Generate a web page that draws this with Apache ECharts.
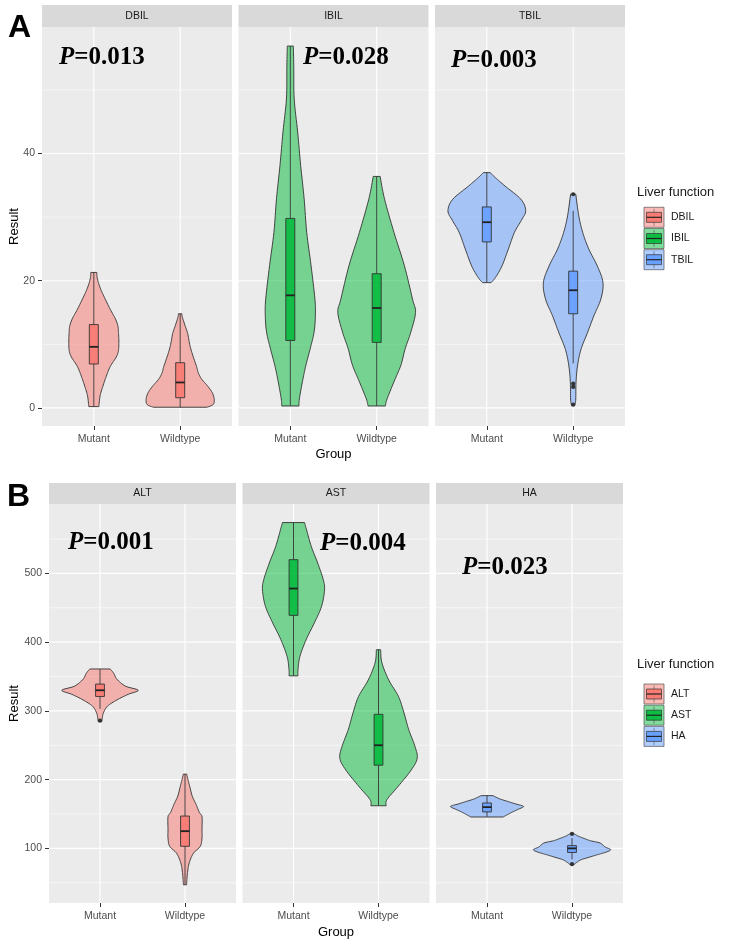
<!DOCTYPE html>
<html><head><meta charset="utf-8">
<script src="https://cdn.jsdelivr.net/npm/echarts@6/dist/echarts.min.js"></script>
<style>html,body{margin:0;padding:0;background:#fff}#c{width:735px;height:949px}</style>
</head><body><div id="c"></div><script>
// ---------- data ----------
const groups = ['Mutant', 'Wildtype'];
const facetsA = ['DBIL', 'IBIL', 'TBIL'];
const facetsB = ['ALT', 'AST', 'HA'];
const pValues = ['0.013', '0.028', '0.003', '0.001', '0.004', '0.023'];
const yTicksA = [0, 20, 40];
const yMinorA = [10, 30, 50];
const yTicksB = [100, 200, 300, 400, 500];
const yMinorB = [50, 150, 250, 350, 450, 550];

// violin density profiles: [value, half-width]
const violinDBILMutant = [[0.2,0.058],[1.9,0.073],[3.4,0.105],[5,0.145],[6.5,0.19],[8,0.26],[9,0.285],[10.5,0.29],[12,0.285],[12.8,0.28],[14,0.25],[15.5,0.19],[17.6,0.115],[19,0.07],[20.4,0.04],[21.3,0.035]];
const violinDBILWildtype = [[0.1,0.31],[0.5,0.38],[1.25,0.395],[2.3,0.375],[3.4,0.32],[4.5,0.25],[5.5,0.21],[6.5,0.19],[8.5,0.14],[10,0.11],[11.7,0.087],[13,0.055],[14.3,0.025],[14.8,0.02]];
const violinIBILMutant = [[0.3,0.1],[1.4,0.105],[4.1,0.14],[6.7,0.18],[9.3,0.23],[11.9,0.275],[14.5,0.29],[17.1,0.285],[22.4,0.24],[27.6,0.19],[32.9,0.16],[38.1,0.12],[43.4,0.085],[48.6,0.045],[53.8,0.04],[56.9,0.035]];
const violinIBILWildtype = [[0.3,0.1],[1.4,0.12],[4.1,0.2],[6.7,0.28],[9.3,0.33],[11.9,0.395],[15,0.45],[17.1,0.415],[22.4,0.32],[27.6,0.2],[32.9,0.09],[36.4,0.04]];
const violinTBILMutant = [[19.7,0.05],[20.5,0.1],[22.3,0.175],[25,0.25],[27.6,0.32],[29.5,0.4],[31,0.45],[32.8,0.395],[34.9,0.21],[36.2,0.1],[37,0.04]];
const violinTBILWildtype = [[0.4,0.02],[1.4,0.03],[4,0.033],[6.6,0.05],[9.2,0.09],[11.8,0.165],[14.5,0.24],[17.1,0.32],[19.7,0.345],[22.3,0.28],[25,0.18],[27.6,0.11],[30.2,0.065],[33.6,0.03]];
const violinALTMutant = [[284,0.02],[288,0.025],[297,0.04],[307,0.09],[316,0.2],[324,0.33],[330,0.45],[336,0.3],[346,0.2],[355,0.16],[361,0.12]];
const violinALTWildtype = [[47,0.02],[50,0.02],[65,0.03],[79,0.05],[93,0.1],[103,0.18],[115,0.2],[127,0.2],[146,0.2],[152,0.17],[164,0.13],[176,0.085],[188,0.06],[200,0.035],[208,0.02]];
const violinASTMutant = [[351,0.053],[360,0.053],[379,0.075],[404,0.15],[428,0.245],[452,0.33],[476,0.365],[491,0.35],[515,0.285],[539,0.21],[565,0.15],[574,0.13]];
const violinASTWildtype = [[162,0.09],[171,0.1],[190,0.23],[214,0.385],[231,0.455],[248,0.43],[273,0.355],[297,0.3],[321,0.235],[345,0.12],[370,0.04],[389,0.025]];
const violinHAMutant = [[145.6,0.19],[149,0.24],[153,0.3],[157,0.37],[161,0.43],[164.5,0.34],[168,0.25],[172,0.15],[176.7,0.07]];
const violinHAWildtype = [[77,0.03],[80,0.06],[83.6,0.11],[87,0.2],[90.8,0.3],[94,0.39],[98,0.455],[102,0.39],[107.8,0.33],[111,0.22],[115,0.13],[118,0.07],[121,0.03]];

// box stats: [lower whisker, Q1, median, Q3, upper whisker]
const boxDBIL = [[0.2, 6.9, 9.6, 13.1, 21.3], [0.1, 1.6, 4.0, 7.1, 14.8]];
const boxIBIL = [[0.3, 10.6, 17.7, 29.8, 56.9], [0.3, 10.3, 15.7, 21.1, 36.4]];
const boxTBIL = [[19.7, 26.1, 29.2, 31.6, 37.0], [7.0, 14.8, 18.5, 21.5, 31.0]];
const boxALT = [[303, 321, 330, 339, 361], [47, 103, 125, 147, 208]];
const boxAST = [[351, 439, 478, 520, 574], [162, 221, 250, 295, 389]];
const boxHA = [[146, 153, 160, 166, 177], [84, 94, 100, 104, 115]];
// outliers
const outDBIL = [[], []];
const outIBIL = [[], []];
const outTBIL = [[], [33.6, 3.8, 3.3, 0.5]];
const outALT = [[286], []];
const outAST = [[], []];
const outHA = [[], [121, 77]];

// ---------- assembly ----------
const facetColors = ['#F8766D', '#00BA38', '#619CFF'];
const violins = {DBIL:[violinDBILMutant, violinDBILWildtype], IBIL:[violinIBILMutant, violinIBILWildtype], TBIL:[violinTBILMutant, violinTBILWildtype],
  ALT:[violinALTMutant, violinALTWildtype], AST:[violinASTMutant, violinASTWildtype], HA:[violinHAMutant, violinHAWildtype]};
const boxes = {DBIL:boxDBIL, IBIL:boxIBIL, TBIL:boxTBIL, ALT:boxALT, AST:boxAST, HA:boxHA};
const outliers = {DBIL:outDBIL, IBIL:outIBIL, TBIL:outTBIL, ALT:outALT, AST:outAST, HA:outHA};

const SANS = 'Liberation Sans, Arial, sans-serif';
const SERIF = 'Liberation Serif, Times New Roman, serif';

const rows = [
  {facets: facetsA, top: 27, height: 399, lefts: [42, 238.5, 435], width: 190, ymin: -2.85, ymax: 59.9, ticks: yTicksA, minor: yMinorA,
   stripTop: 5, pPos: [[59, 58], [303, 58], [451, 61]], letter: 'A', letterY: 28, legY: 192, keyY: 207.3},
  {facets: facetsB, top: 504, height: 399, lefts: [49, 242.5, 436], width: 187, ymin: 20.5, ymax: 601, ticks: yTicksB, minor: yMinorB,
   stripTop: 483, pPos: [[68, 543], [320, 544], [462, 568]], letter: 'B', letterY: 497.5, legY: 664, keyY: 684}
];

function rgba(hex, a) {
  const n = parseInt(hex.slice(1), 16);
  return 'rgba(' + ((n >> 16) & 255) + ',' + ((n >> 8) & 255) + ',' + (n & 255) + ',' + a + ')';
}

// Catmull-Rom sampling of a profile outline (render-time smoothing only)
function sampleProfile(prof) {
  const out = [];
  const n = prof.length;
  for (let i = 0; i < n - 1; i++) {
    const p0 = prof[Math.max(0, i - 1)], p1 = prof[i], p2 = prof[i + 1], p3 = prof[Math.min(n - 1, i + 2)];
    const steps = 8;
    for (let s = 0; s < steps; s++) {
      const t = s / steps, t2 = t * t, t3 = t2 * t;
      const f = (a, b, c, d) => 0.5 * ((2 * b) + (-a + c) * t + (2 * a - 5 * b + 4 * c - d) * t2 + (-a + 3 * b - 3 * c + d) * t3);
      const v = f(p0[0], p1[0], p2[0], p3[0]);
      let w = f(p0[1], p1[1], p2[1], p3[1]);
      const lo = Math.min(p1[1], p2[1]) * 0.6;
      if (w < lo) w = lo;
      out.push([v, w]);
    }
  }
  out.push(prof[n - 1]);
  return out;
}

const grids = [], xAxes = [], yAxes = [], series = [], graphics = [];
const BW = 0.052;

rows.forEach((row, ri) => {
  row.facets.forEach((facet, ci) => {
    const gi = grids.length;
    const color = facetColors[ci];
    grids.push({left: row.lefts[ci], top: row.top, width: row.width, height: row.height,
      show: true, backgroundColor: '#EBEBEB', borderWidth: 0, containLabel: false});
    xAxes.push({type: 'value', gridIndex: gi, min: 0.4, max: 2.6, position: 'bottom',
      axisLine: {show: false, onZero: false}, splitLine: {show: false}, axisPointer: {show: false},
      axisTick: {show: true, length: 4, customValues: [1, 2], lineStyle: {color: '#333', width: 1}},
      axisLabel: {show: true, customValues: [1, 2], margin: 8, color: '#4D4D4D', fontSize: 10.5, fontFamily: SANS,
        formatter: v => groups[Math.round(v) - 1] || ''}});
    yAxes.push({type: 'value', gridIndex: gi, min: row.ymin, max: row.ymax, position: 'left',
      axisLine: {show: false, onZero: false}, splitLine: {show: false}, axisPointer: {show: false},
      axisTick: {show: ci === 0, length: 4, customValues: row.ticks, lineStyle: {color: '#333', width: 1}},
      axisLabel: {show: ci === 0, customValues: row.ticks, margin: 7, color: '#4D4D4D', fontSize: 10.5, fontFamily: SANS}});
    // grid lines: [x, y, kind]  kind 0 major horizontal, 1 minor horizontal, 2 vertical
    const gl = [];
    row.ticks.forEach(v => gl.push([1, v, 0]));
    row.minor.forEach(v => gl.push([1, v, 1]));
    [1, 2].forEach(v => gl.push([v, row.ticks[1], 2]));
    series.push({type: 'custom', xAxisIndex: gi, yAxisIndex: gi, z: 1, silent: true, animation: false, clip: true,
      data: gl,
      renderItem: (params, api) => {
        const cs = params.coordSys;
        const kind = api.value(2);
        const p = api.coord([api.value(0), api.value(1)]);
        if (kind === 2) {
          return {type: 'line', shape: {x1: p[0], y1: cs.y, x2: p[0], y2: cs.y + cs.height}, style: {stroke: '#FFFFFF', lineWidth: 1.1}};
        }
        return {type: 'line', shape: {x1: cs.x, y1: p[1], x2: cs.x + cs.width, y2: p[1]},
          style: {stroke: '#FFFFFF', lineWidth: kind === 0 ? 1.1 : 0.55}};
      }});
    // violins + boxes
    series.push({type: 'custom', name: facet, xAxisIndex: gi, yAxisIndex: gi, z: 3, animation: false, clip: true,
      data: [[1, boxes[facet][0][2]], [2, boxes[facet][1][2]]],
      renderItem: (params, api) => {
        const k = params.dataIndex;
        const prof = sampleProfile(violins[facet][k]);
        const b = boxes[facet][k];
        const xc = api.value(0);
        const leftPts = prof.map(p => api.coord([xc - p[1], p[0]]));
        const rightPts = prof.slice().reverse().map(p => api.coord([xc + p[1], p[0]]));
        const ch = [];
        ch.push({type: 'polygon', shape: {points: leftPts.concat(rightPts)},
          style: {fill: rgba(color, 0.5), stroke: '#333333', lineWidth: 0.9, lineJoin: 'round'}});
        const lo = api.coord([xc, b[0]]), q1 = api.coord([xc, b[1]]), q3 = api.coord([xc, b[3]]), hi = api.coord([xc, b[4]]);
        ch.push({type: 'line', shape: {x1: lo[0], y1: lo[1], x2: q1[0], y2: q1[1]}, style: {stroke: '#333333', lineWidth: 0.9}});
        ch.push({type: 'line', shape: {x1: q3[0], y1: q3[1], x2: hi[0], y2: hi[1]}, style: {stroke: '#333333', lineWidth: 0.9}});
        const a = api.coord([xc - BW, b[3]]), c = api.coord([xc + BW, b[1]]);
        ch.push({type: 'rect', shape: {x: a[0], y: a[1], width: c[0] - a[0], height: c[1] - a[1]},
          style: {fill: rgba(color, 0.85), stroke: '#333333', lineWidth: 0.9}});
        const m1 = api.coord([xc - BW, b[2]]), m2 = api.coord([xc + BW, b[2]]);
        ch.push({type: 'line', shape: {x1: m1[0], y1: m1[1], x2: m2[0], y2: m2[1]}, style: {stroke: '#222222', lineWidth: 1.8}});
        outliers[facet][k].forEach(v => {
          const p = api.coord([xc, v]);
          ch.push({type: 'circle', shape: {cx: p[0], cy: p[1], r: 2.1}, style: {fill: '#333333'}});
        });
        return {type: 'group', children: ch};
      }});
    // strip
    graphics.push({type: 'rect', shape: {x: row.lefts[ci], y: row.stripTop, width: row.width, height: row.top - row.stripTop},
      style: {fill: '#D9D9D9'}, silent: true});
    graphics.push({type: 'text', x: row.lefts[ci] + row.width / 2, y: (row.stripTop + row.top) / 2,
      style: {text: facet, fill: '#1A1A1A', font: '10.5px ' + SANS, align: 'center', verticalAlign: 'middle'}, silent: true});
    // p value
    const pp = row.pPos[ci];
    graphics.push({type: 'text', x: pp[0], y: pp[1], z: 10,
      style: {text: '{i|P}{n|=' + pValues[ri * 3 + ci] + '}', align: 'left', verticalAlign: 'middle',
        rich: {i: {fontFamily: SERIF, fontSize: 25, fontWeight: 'bold', fontStyle: 'italic', fill: '#000'},
               n: {fontFamily: SERIF, fontSize: 25, fontWeight: 'bold', fill: '#000'}}}, silent: true});
  });
  // panel letter
  graphics.push({type: 'text', x: ri === 0 ? 8 : 7, y: row.letterY,
    style: {text: row.letter, font: 'bold 32px ' + SANS, fill: '#000', align: 'left', verticalAlign: 'middle'}});
  // axis titles
  graphics.push({type: 'text', x: 14, y: row.top + row.height / 2, rotation: Math.PI / 2,
    style: {text: 'Result', font: '13px ' + SANS, fill: '#000', align: 'center', verticalAlign: 'middle'}});
  const gx = (row.lefts[0] + row.lefts[2] + row.width) / 2;
  graphics.push({type: 'text', x: gx, y: row.top + row.height + (ri === 0 ? 28 : 29),
    style: {text: 'Group', font: '13px ' + SANS, fill: '#000', align: 'center', verticalAlign: 'middle'}});
  // legend
  graphics.push({type: 'text', x: 637, y: row.legY,
    style: {text: 'Liver function', font: '13px ' + SANS, fill: '#1A1A1A', align: 'left', verticalAlign: 'middle'}});
  row.facets.forEach((facet, ci) => {
    const ky = row.keyY + ci * 21.2;
    const col = facetColors[ci];
    graphics.push({type: 'rect', shape: {x: 644, y: ky, width: 20, height: 20}, style: {fill: rgba(col, 0.5), stroke: '#555', lineWidth: 0.7}});
    graphics.push({type: 'line', shape: {x1: 654, y1: ky + 1.5, x2: 654, y2: ky + 18.5}, style: {stroke: '#555', lineWidth: 0.6}});
    graphics.push({type: 'rect', shape: {x: 646.5, y: ky + 5, width: 15, height: 10}, style: {fill: rgba(col, 0.9), stroke: '#333', lineWidth: 0.7}});
    graphics.push({type: 'line', shape: {x1: 646.5, y1: ky + 10, x2: 661.5, y2: ky + 10}, style: {stroke: '#222', lineWidth: 1.2}});
    graphics.push({type: 'text', x: 671, y: ky + 10,
      style: {text: facet, font: '10.5px ' + SANS, fill: '#1A1A1A', align: 'left', verticalAlign: 'middle'}});
  });
});

const chart = echarts.init(document.getElementById('c'), null, {renderer: 'canvas'});
chart.setOption({
  animation: false,
  backgroundColor: '#FFFFFF',
  grid: grids, xAxis: xAxes, yAxis: yAxes, series: series, graphic: graphics
});
</script></body></html>
